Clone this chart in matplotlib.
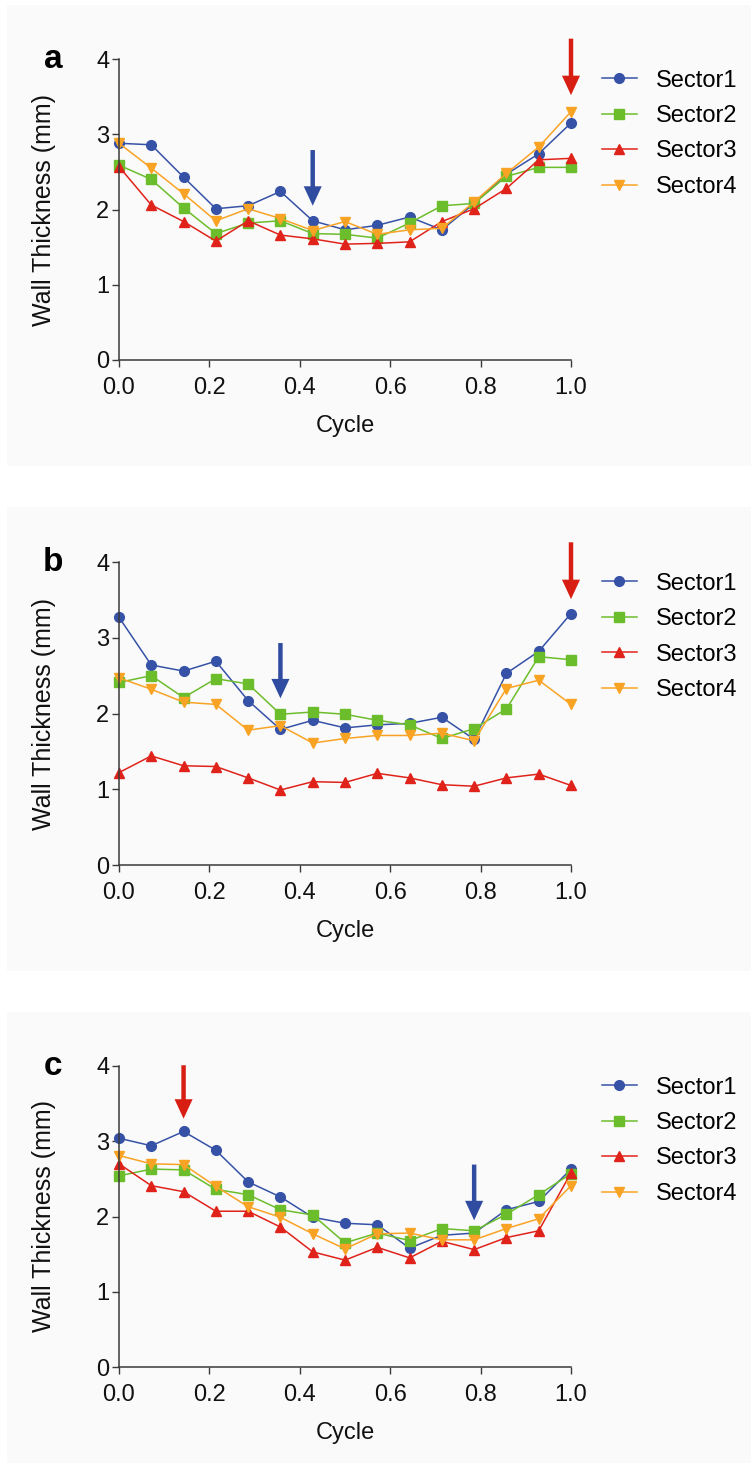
import matplotlib
matplotlib.use('Agg')
import matplotlib.pyplot as plt
from matplotlib.patches import Rectangle
import numpy as np

plt.rcParams['font.family'] = ['Liberation Sans', 'DejaVu Sans']

# data: 15 samples over one cycle
cycle = np.arange(15) / 14
sectors = ['Sector1', 'Sector2', 'Sector3', 'Sector4']

a_s1 = [2.88, 2.86, 2.43, 2.01, 2.05, 2.24, 1.85, 1.73, 1.79, 1.90, 1.73, 2.08, 2.47, 2.74, 3.15]
a_s2 = [2.59, 2.40, 2.02, 1.68, 1.82, 1.85, 1.68, 1.67, 1.62, 1.82, 2.05, 2.08, 2.44, 2.56, 2.56]
a_s3 = [2.57, 2.06, 1.84, 1.58, 1.85, 1.66, 1.61, 1.54, 1.55, 1.57, 1.84, 2.01, 2.28, 2.66, 2.68]
a_s4 = [2.88, 2.55, 2.21, 1.85, 2.01, 1.88, 1.72, 1.84, 1.67, 1.73, 1.75, 2.10, 2.48, 2.83, 3.30]

b_s1 = [3.27, 2.64, 2.56, 2.69, 2.17, 1.79, 1.91, 1.81, 1.85, 1.87, 1.95, 1.66, 2.53, 2.82, 3.32]
b_s2 = [2.41, 2.50, 2.21, 2.46, 2.39, 1.99, 2.02, 1.99, 1.91, 1.85, 1.67, 1.80, 2.06, 2.75, 2.71]
b_s3 = [1.22, 1.44, 1.31, 1.30, 1.15, 0.99, 1.10, 1.09, 1.21, 1.15, 1.06, 1.04, 1.15, 1.20, 1.05]
b_s4 = [2.47, 2.32, 2.15, 2.12, 1.78, 1.84, 1.61, 1.67, 1.71, 1.71, 1.74, 1.64, 2.33, 2.44, 2.12]

c_s1 = [3.04, 2.94, 3.13, 2.88, 2.46, 2.26, 1.99, 1.91, 1.89, 1.58, 1.75, 1.78, 2.09, 2.20, 2.63]
c_s2 = [2.54, 2.63, 2.62, 2.36, 2.29, 2.09, 2.02, 1.65, 1.78, 1.68, 1.84, 1.81, 2.03, 2.29, 2.57]
c_s3 = [2.70, 2.41, 2.33, 2.07, 2.07, 1.86, 1.53, 1.42, 1.59, 1.45, 1.67, 1.56, 1.72, 1.81, 2.58]
c_s4 = [2.81, 2.70, 2.69, 2.40, 2.13, 1.99, 1.77, 1.57, 1.77, 1.78, 1.69, 1.69, 1.84, 1.97, 2.41]

# arrows: (x, tail y, tip y, colour key)
a_arrows = [(6 / 14, 2.79, 2.05, 'blue'), (1.0, 4.27, 3.52, 'red')]
b_arrows = [(5 / 14, 2.93, 2.20, 'blue'), (1.0, 4.26, 3.51, 'red')]
c_arrows = [(2 / 14, 4.01, 3.30, 'red'), (11 / 14, 2.69, 1.95, 'blue')]

panels = [('a', [a_s1, a_s2, a_s3, a_s4], a_arrows),
          ('b', [b_s1, b_s2, b_s3, b_s4], b_arrows),
          ('c', [c_s1, c_s2, c_s3, c_s4], c_arrows)]

colors = ['#3652a6', '#6cbd2c', '#e0231a', '#f9a325']
markers = ['o', 's', '^', 'v']
arrow_colors = {'blue': '#2f4ca0', 'red': '#d81e12'}

W, H = 751, 1465
fig = plt.figure(figsize=(W / 100, H / 100), dpi=100, facecolor='white')

# light grey panel boxes (pixel coords)
boxes = [(7, 5, 466), (7, 507, 971), (7, 1012, 1463)]
for x0, y0, y1 in boxes:
    fig.patches.append(Rectangle((x0 / W, 1 - y1 / H), 1 - x0 / W, (y1 - y0) / H,
                                 transform=fig.transFigure, facecolor='#fafafa',
                                 edgecolor='none', zorder=-10))

axes_px = [(59, 360), (562, 865), (1066, 1367)]
left, right = 119, 571

for (label, series, arrows), (top, bot) in zip(panels, axes_px):
    ax = fig.add_axes([left / W, 1 - bot / H, (right - left) / W, (bot - top) / H])
    ax.set_facecolor('none')
    for vals, col, mk, name in zip(series, colors, markers, sectors):
        ax.plot(cycle, vals, color=col, marker=mk, markersize=7, linewidth=1.1,
                label=name, clip_on=False)
    for x, y0, y1, ck in arrows:
        ax.annotate('', xy=(x, y1), xytext=(x, y0), annotation_clip=False,
                    arrowprops=dict(width=3.2, headwidth=13, headlength=14,
                                    facecolor=arrow_colors[ck], edgecolor='none'))
    ax.set_xlim(0, 1)
    ax.set_ylim(0, 4)
    ax.set_xticks([0, 0.2, 0.4, 0.6, 0.8, 1.0])
    ax.set_xticklabels(['0.0', '0.2', '0.4', '0.6', '0.8', '1.0'])
    ax.set_yticks([0, 1, 2, 3, 4])
    for s in ['top', 'right']:
        ax.spines[s].set_visible(False)
    for s in ['left', 'bottom']:
        ax.spines[s].set_color('#3a3a3a')
        ax.spines[s].set_linewidth(1.1)
    ax.tick_params(length=5, width=1.0, color='#3a3a3a', labelsize=17, pad=2,
                   labelcolor='#111111')
    ax.tick_params(axis='x', pad=7)
    ax.set_xlabel('Cycle', fontsize=17, labelpad=12, color='#111111')
    ax.set_ylabel('Wall Thickness (mm)', fontsize=18, color='#111111')
    ax.yaxis.set_label_coords(-0.14, 0.5)
    ax.text(-0.146, 0.97, label, transform=ax.transAxes, fontsize=24,
            fontweight='bold', ha='center', va='baseline')
    ax.legend(loc='upper left', bbox_to_anchor=(1.068, 0.965), frameon=False,
              fontsize=17, handlelength=1.5, handletextpad=0.8, labelspacing=0.57,
              borderpad=0, borderaxespad=0, markerscale=1.0)

fig.savefig('out.png', dpi=100, facecolor='white')
